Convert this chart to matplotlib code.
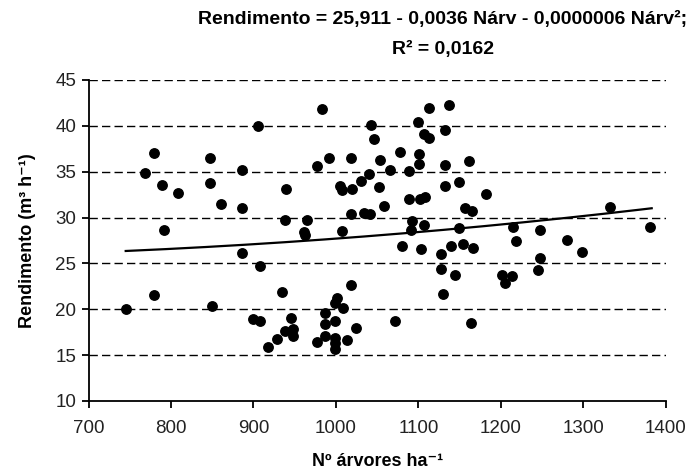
import numpy as np
import matplotlib
matplotlib.use('Agg')
import matplotlib.pyplot as plt

plt.rcParams['font.family'] = ['Liberation Sans', 'DejaVu Sans']

# número de árvores por hectare e rendimento observado
n_arv = [769, 779, 789, 808, 791, 847, 847, 861, 886, 886, 906, 940, 938,
         886, 908, 745, 779, 850, 934, 900, 908, 946, 938, 948, 948, 928, 918,
         983, 977, 991, 1018, 1042, 1046, 1005, 1007, 1019, 1031, 1040, 1052,
         1054, 1066, 1078, 1058, 1018, 1034, 1041, 965, 961, 962, 1007, 1089,
         1101, 1101, 1089, 1102, 1108, 1099, 1113, 1107, 1113, 1137, 1132,
         1132, 1161, 1149, 1132, 1182, 1156, 1165, 1092, 1091, 1107, 1149,
         1080, 1103, 1139, 1154, 1166, 1127, 1127, 1144, 1130, 1164, 1072,
         1018, 1001, 999, 1009, 987, 999, 987, 987, 977, 999, 999, 999, 1013,
         1024, 1215, 1219, 1247, 1280, 1298, 1332, 1381, 1247, 1245, 1202,
         1213, 1205]
rend = [34.9, 37.0, 33.6, 32.7, 28.6, 36.45, 33.8, 31.5, 35.2, 31.0, 40.0,
        33.1, 29.7, 26.1, 24.75, 20.0, 21.5, 20.3, 21.9, 18.9, 18.7, 19.05,
        17.6, 17.8, 17.05, 16.75, 15.85, 41.8, 35.6, 36.45, 36.45, 40.1,
        38.55, 33.4, 33.0, 33.1, 34.0, 34.7, 33.3, 36.3, 35.2, 37.2, 31.3,
        30.4, 30.5, 30.4, 29.7, 28.45, 28.1, 28.5, 35.05, 36.9, 35.8, 32.0,
        32.0, 32.2, 40.4, 42.0, 39.15, 38.7, 42.3, 39.6, 35.75, 36.15, 33.85,
        33.4, 32.6, 31.0, 30.75, 29.65, 28.65, 29.2, 28.85, 26.9, 26.6, 26.9,
        27.1, 26.7, 26.0, 24.4, 23.7, 21.7, 18.5, 18.75, 22.6, 21.25, 20.7,
        20.15, 19.6, 18.7, 18.4, 17.1, 16.4, 16.85, 16.3, 15.7, 16.6, 17.95,
        29.0, 27.45, 28.65, 27.6, 26.2, 31.2, 29.0, 25.6, 24.25, 23.75, 23.6,
        22.9]

# coeficientes da curva ajustada (c0 + c1*N + c2*N^2)
coef = [26.33, -0.00389, 0.00000526]
n_min, n_max = 745, 1383

xticks = [700, 800, 900, 1000, 1100, 1200, 1300, 1400]
yticks = [10, 15, 20, 25, 30, 35, 40, 45]

fig = plt.figure(figsize=(6.89, 4.70), dpi=100)
ax = fig.add_axes([0.1286, 0.1470, 0.8376, 0.6828])

for y in yticks[1:]:
    ax.axhline(y, color='black', lw=1.0, ls=(0, (6, 3)), zorder=1)

ax.plot(n_arv, rend, 'o', color='black', ms=6.8, zorder=3)

nn = np.linspace(n_min, n_max, 200)
ax.plot(nn, coef[0] + coef[1] * nn + coef[2] * nn ** 2, color='black',
        lw=1.6, zorder=2)

ax.set_xlim(700, 1400)
ax.set_ylim(10, 45)
ax.set_xticks(xticks)
ax.set_yticks(yticks)
ax.spines['top'].set_visible(False)
ax.spines['right'].set_visible(False)
ax.spines['left'].set_linewidth(1.3)
ax.spines['bottom'].set_linewidth(1.3)
ax.tick_params(direction='out', length=5, width=1.3, labelsize=13.5,
               labelcolor='#222222')
ax.tick_params(axis='x', pad=9)
ax.tick_params(axis='y', pad=4)

ax.set_ylabel('Rendimento (m³ h⁻¹)', fontsize=13, fontweight='bold',
              labelpad=14)
ax.set_xlabel('Nº árvores ha⁻¹', fontsize=13, fontweight='bold', labelpad=11)

fig.text(0.643, 0.958, 'Rendimento = 25,911 - 0,0036 Nárv - 0,0000006 Nárv²;',
         ha='center', va='center', fontsize=14, fontweight='bold')
fig.text(0.643, 0.894, 'R² = 0,0162', ha='center', va='center',
         fontsize=14, fontweight='bold')

fig.savefig('out.png', dpi=100)
